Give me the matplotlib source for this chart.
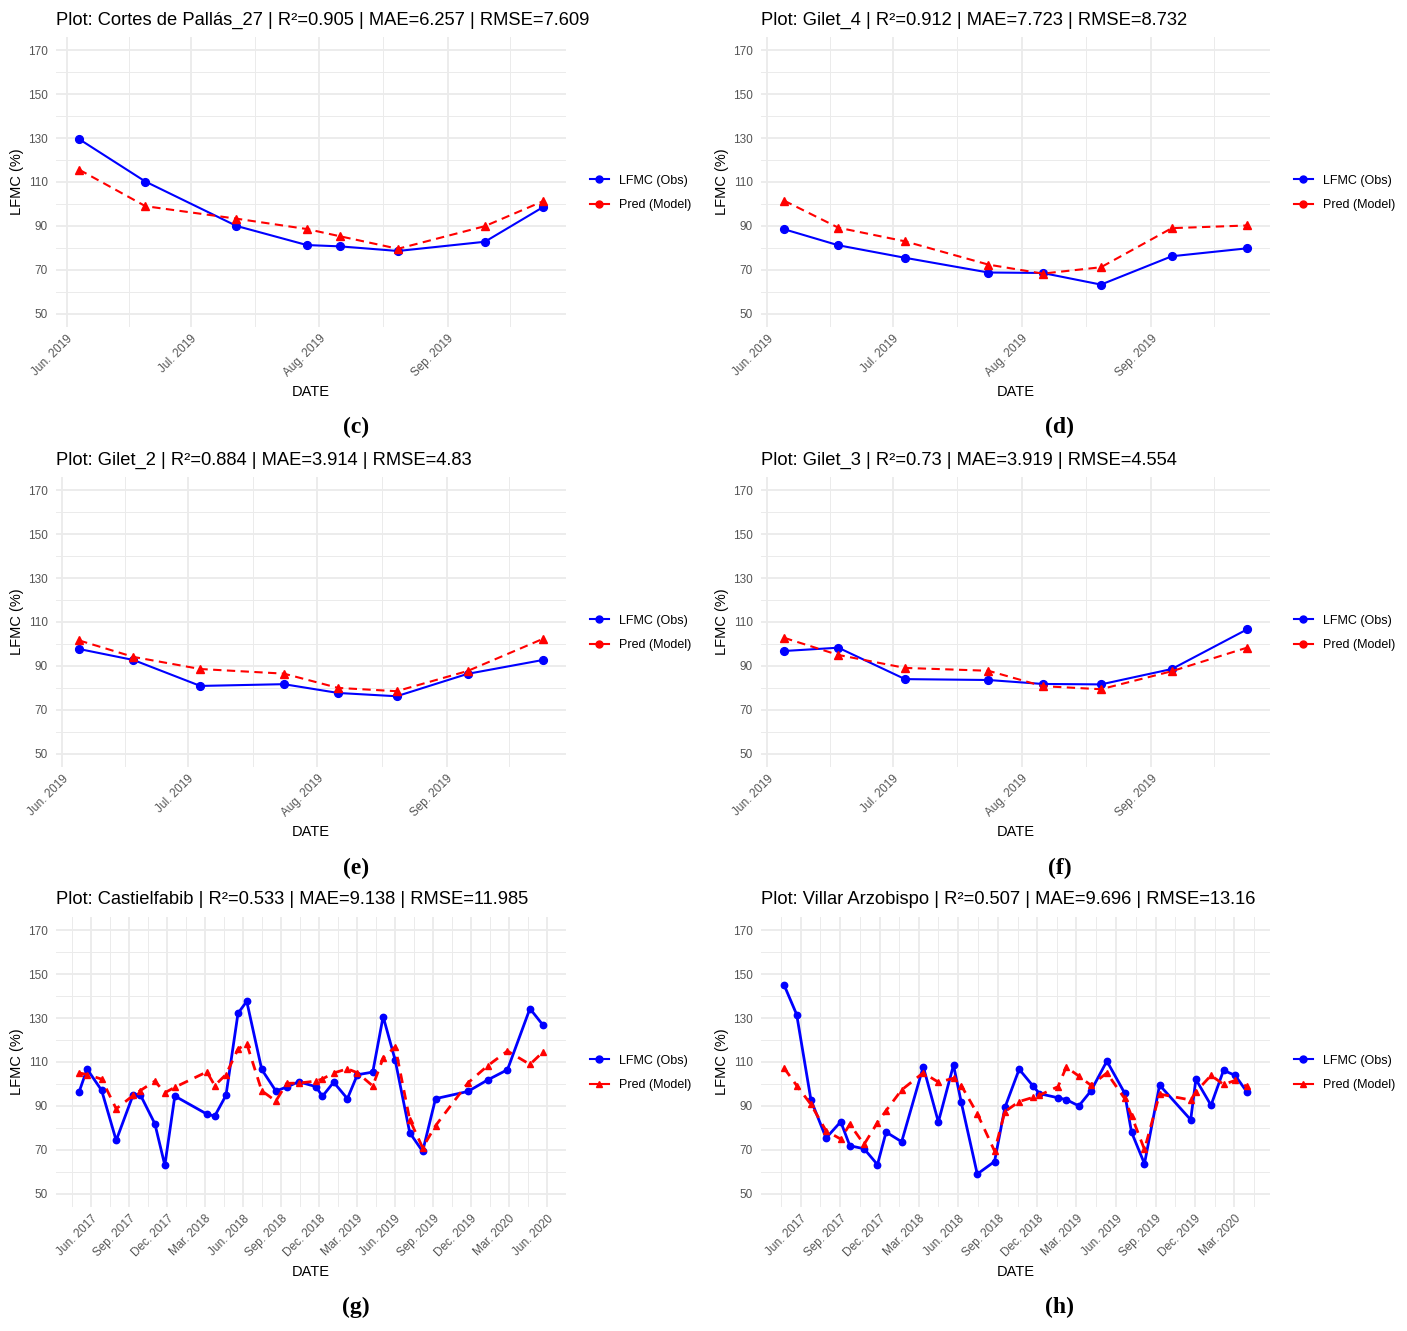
import numpy as np
import pandas as pd
import matplotlib
matplotlib.use("Agg")
import matplotlib.pyplot as plt
import matplotlib.dates as mdates
from matplotlib.lines import Line2D

plt.rcParams['font.family'] = ['Liberation Sans', 'DejaVu Sans']

# ---- data ----
cortes_dates = ["2019-06-04", "2019-06-20", "2019-07-12", "2019-07-29", "2019-08-06",
                "2019-08-20", "2019-09-10", "2019-09-24"]
cortes_obs = [129.5, 110.2, 90.0, 81.3, 80.7, 78.6, 82.8, 98.5]
cortes_pred = [115.6, 99.0, 93.3, 88.6, 85.3, 79.6, 89.9, 101.2]

gilet4_dates = ["2019-06-05", "2019-06-18", "2019-07-04", "2019-07-24", "2019-08-06",
                "2019-08-20", "2019-09-06", "2019-09-24"]
gilet4_obs = [88.5, 81.2, 75.5, 68.8, 68.6, 63.3, 76.2, 79.8]
gilet4_pred = [101.5, 89.2, 83.0, 72.4, 68.3, 71.2, 89.0, 90.2]

gilet2_dates = ["2019-06-05", "2019-06-18", "2019-07-04", "2019-07-24", "2019-08-06",
                "2019-08-20", "2019-09-06", "2019-09-24"]
gilet2_obs = [97.7, 92.7, 80.9, 81.7, 77.7, 76.2, 86.4, 92.7]
gilet2_pred = [101.6, 94.1, 88.6, 86.5, 80.0, 78.5, 87.7, 102.3]

gilet3_dates = ["2019-06-05", "2019-06-18", "2019-07-04", "2019-07-24", "2019-08-06",
                "2019-08-20", "2019-09-06", "2019-09-24"]
gilet3_obs = [96.8, 98.3, 84.0, 83.6, 81.8, 81.6, 88.6, 106.6]
gilet3_pred = [102.8, 95.0, 89.1, 87.8, 80.8, 79.4, 87.6, 98.3]

castiel_dates = ["2017-05-03", "2017-05-22", "2017-06-26", "2017-07-31", "2017-09-10",
                 "2017-09-27", "2017-11-01", "2017-11-25", "2017-12-19", "2018-03-06",
                 "2018-03-25", "2018-04-21", "2018-05-20", "2018-06-10", "2018-07-16",
                 "2018-08-19", "2018-09-14", "2018-10-13", "2018-11-23", "2018-12-09",
                 "2019-01-05", "2019-02-07", "2019-03-03", "2019-04-09", "2019-05-04",
                 "2019-06-02", "2019-07-07", "2019-08-07", "2019-09-07", "2019-11-24",
                 "2020-01-11", "2020-02-27", "2020-04-21", "2020-05-22"]
castiel_obs = [96.5, 106.8, 97.1, 74.3, 95.2, 95.1, 81.9, 63.0, 94.5, 86.3,
               85.4, 94.8, 132.2, 137.6, 106.6, 96.8, 98.6, 101.0, 98.8, 94.4,
               100.8, 93.3, 104.2, 105.4, 130.7, 110.8, 77.8, 69.3, 93.3, 96.6,
               101.9, 106.5, 134.3, 126.9]
castiel_pred = [105.0, 104.3, 102.2, 88.7, 94.8, 97.0, 101.3, 96.0, 98.5, 105.5,
                99.3, 104.3, 115.9, 118.3, 96.9, 92.2, 100.3, 100.4, 101.3, 102.3,
                105.0, 106.9, 105.1, 99.1, 111.8, 116.9, 83.7, 71.0, 81.0, 100.5,
                108.4, 115.0, 108.9, 114.5]

villar_dates = ["2017-04-24", "2017-05-23", "2017-06-25", "2017-07-30", "2017-09-02",
                "2017-09-23", "2017-10-26", "2017-11-26", "2017-12-16", "2018-01-21",
                "2018-03-12", "2018-04-16", "2018-05-21", "2018-06-08", "2018-07-15",
                "2018-08-24", "2018-09-17", "2018-10-20", "2018-11-21", "2018-12-06",
                "2019-01-18", "2019-02-06", "2019-03-07", "2019-04-04", "2019-05-11",
                "2019-06-21", "2019-07-07", "2019-08-06", "2019-09-10", "2019-11-21",
                "2019-12-03", "2020-01-07", "2020-02-05", "2020-03-03", "2020-03-30"]
villar_obs = [145.0, 131.6, 92.8, 75.4, 82.8, 71.9, 70.5, 63.3, 78.1, 73.7,
              107.9, 82.7, 108.6, 91.6, 59.0, 64.7, 89.3, 106.7, 99.1, 95.6,
              93.7, 92.9, 90.0, 96.8, 110.4, 95.9, 78.1, 63.7, 99.5, 83.7,
              102.1, 90.3, 106.2, 103.9, 96.4]
villar_pred = [107.2, 99.3, 90.7, 78.7, 74.9, 81.7, 72.5, 82.4, 87.9, 97.3,
               105.1, 100.8, 102.6, 99.3, 86.5, 69.5, 87.4, 92.0, 93.9, 94.9,
               98.8, 107.7, 103.6, 99.4, 105.0, 93.4, 85.5, 70.2, 95.4, 92.7,
               96.4, 103.9, 99.8, 101.6, 98.9]

panels = [
    ("Plot: Cortes de Pallás_27 | R²=0.905 | MAE=6.257 | RMSE=7.609", cortes_dates, cortes_obs, cortes_pred, "(c)"),
    ("Plot: Gilet_4 | R²=0.912 | MAE=7.723 | RMSE=8.732", gilet4_dates, gilet4_obs, gilet4_pred, "(d)"),
    ("Plot: Gilet_2 | R²=0.884 | MAE=3.914 | RMSE=4.83", gilet2_dates, gilet2_obs, gilet2_pred, "(e)"),
    ("Plot: Gilet_3 | R²=0.73 | MAE=3.919 | RMSE=4.554", gilet3_dates, gilet3_obs, gilet3_pred, "(f)"),
    ("Plot: Castielfabib | R²=0.533 | MAE=9.138 | RMSE=11.985", castiel_dates, castiel_obs, castiel_pred, "(g)"),
    ("Plot: Villar Arzobispo | R²=0.507 | MAE=9.696 | RMSE=13.16", villar_dates, villar_obs, villar_pred, "(h)"),
]

W, H = 1407, 1331
fig = plt.figure(figsize=(W / 100, H / 100), dpi=100)

col_left = [56, 761]
col_width = [510, 509]
row_top = [37, 477, 917]
ax_h = 290
label_y = [427, 868, 1307]
label_x = [356, 1060]

grid_col = '#EBEBEB'
tick_col = '#555555'


def month_breaks(x0, x1, months):
    # major date breaks (first of month) spanning a bit beyond the range
    start = pd.Timestamp(x0.year - 1, 1, 1)
    end = pd.Timestamp(x1.year + 1, 12, 31)
    all_m = pd.date_range(start, end, freq='MS')
    return [d for d in all_m if d.month in months]


for i, (title, dates, obs, pred, lab) in enumerate(panels):
    r, c = divmod(i, 2)
    left = col_left[c] / W
    bottom = 1 - (row_top[r] + ax_h) / H
    ax = fig.add_axes([left, bottom, col_width[c] / W, ax_h / H])

    d = pd.to_datetime(dates)
    dnum = mdates.date2num(d)
    span = dnum.max() - dnum.min()
    xlo, xhi = dnum.min() - 0.05 * span, dnum.max() + 0.05 * span

    long_series = r == 2
    lw = 2.0 if long_series else 1.5
    ms = 4.6 if long_series else 5.6
    dash = (3.5, 2.6) if long_series else (4, 2.6)

    ax.plot(dnum, obs, color='#0000FF', lw=lw, marker='o', ms=ms, zorder=3)
    ax.plot(dnum, pred, color='#FF0000', lw=lw, ls=(0, dash), marker='^', ms=ms, zorder=4)

    # axes / grid, theme_minimal look
    ax.set_xlim(xlo, xhi)
    ax.set_ylim(44, 176)
    for s in ax.spines.values():
        s.set_visible(False)

    if long_series:
        majors = month_breaks(mdates.num2date(xlo), mdates.num2date(xhi), [3, 6, 9, 12])
    else:
        majors = month_breaks(mdates.num2date(xlo), mdates.num2date(xhi), range(1, 13))
    maj = np.array([mdates.date2num(m) for m in majors])
    mins = (maj[:-1] + maj[1:]) / 2
    ax.set_xticks([m for m in maj if xlo <= m <= xhi])
    ax.set_xticks([m for m in mins if xlo <= m <= xhi], minor=True)
    ax.xaxis.set_major_formatter(mdates.DateFormatter('%b. %Y'))

    ax.set_yticks(np.arange(50, 171, 20))
    ax.set_yticks(np.arange(60, 171, 20), minor=True)

    ax.grid(which='major', color=grid_col, lw=1.3)
    ax.grid(which='minor', color=grid_col, lw=0.7)
    ax.set_axisbelow(True)
    ax.tick_params(which='both', length=0)
    ax.tick_params(axis='y', labelsize=8.5, labelcolor=tick_col, pad=6)
    ax.tick_params(axis='x', labelsize=8.5, labelcolor=tick_col, pad=4)
    for t in ax.get_xticklabels():
        t.set_rotation(45)
        t.set_ha('right')
        t.set_va('top')
        t.set_rotation_mode('anchor')

    ax.set_title(title, loc='left', fontsize=13.2, pad=9)
    ax.set_xlabel('DATE', fontsize=10.5)
    ax.xaxis.set_label_coords(0.5, -0.20)
    ax.set_ylabel('LFMC (%)', fontsize=10.5)
    ax.yaxis.set_label_coords(-0.062, 0.5)

    pred_key = '^' if long_series else 'o'
    handles = [Line2D([], [], color='#0000FF', lw=1.5, marker='o', ms=5),
               Line2D([], [], color='#FF0000', lw=1.5, marker=pred_key, ms=5)]
    leg_x = (col_left[c] + col_width[c] + 24) / W
    leg_y = 1 - (row_top[r] + 156) / H
    fig.legend(handles, ['LFMC (Obs)', 'Pred (Model)'], loc='center left',
               bbox_to_anchor=(leg_x, leg_y), frameon=False, fontsize=9,
               handlelength=1.5, handletextpad=0.8, labelspacing=1.0,
               borderpad=0, borderaxespad=0)

    fig.text(label_x[c] / W, 1 - label_y[r] / H, lab, ha='center', va='center',
             fontsize=17, fontweight='bold', family='Liberation Serif')

fig.savefig('out.png', dpi=100, facecolor='white')
